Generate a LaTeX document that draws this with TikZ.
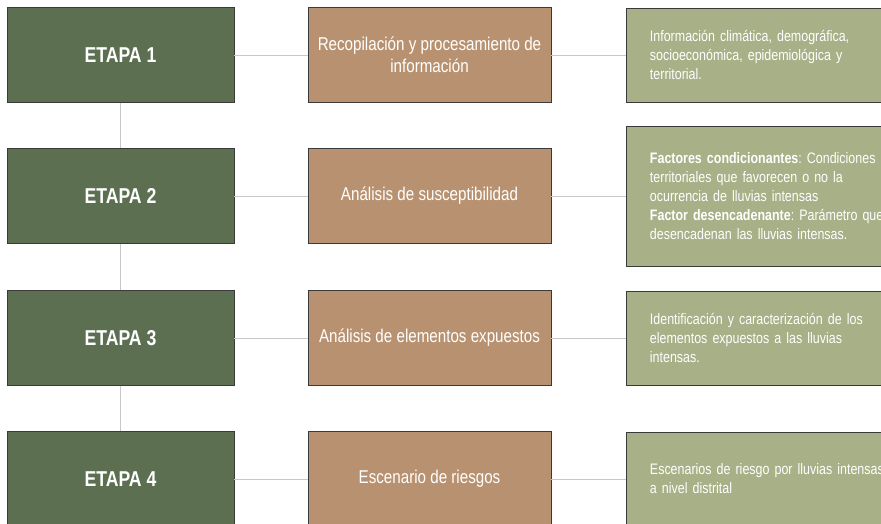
\documentclass[tikz,border=0pt]{standalone}
\usepackage{fontspec}
\setmainfont[FakeStretch=0.82]{Liberation Sans}
\definecolor{etapacol}{HTML}{5C7051}
\definecolor{proccol}{HTML}{B89270}
\definecolor{infocol}{HTML}{A7B087}
\definecolor{linkcol}{HTML}{C8C8C8}
\definecolor{edgecol}{HTML}{3A3A3A}
\newcommand\etapafont{\fontsize{21.5}{25}\selectfont\bfseries}
\newcommand\procfont{\fontsize{18.5}{22}\selectfont}
\newcommand\infofont{\fontsize{15.2}{19}\selectfont\spaceskip=2.9pt plus 1pt minus 0.5pt\relax}
\begin{document}
\frenchspacing
\begin{tikzpicture}[x=1pt,y=-1pt,
  etapabox/.style={draw=edgecol, line width=0.9pt, fill=etapacol, minimum width=227pt, minimum height=95pt, inner sep=0pt, text=white, font=\etapafont},
  procbox/.style={draw=edgecol, line width=0.9pt, fill=proccol, minimum width=243pt, minimum height=95pt, inner sep=2pt, text=white, align=center, font=\procfont},
  infobox/.style={draw=edgecol, line width=0.9pt, fill=infocol, anchor=west, text width=250pt, inner xsep=24pt, inner ysep=0pt, minimum height=94pt, text=white, align=left, font=\infofont},
  linkline/.style={draw=linkcol, line width=0.9pt}]
\clip (0,0) rectangle (881,524);
\fill[white] (0,0) rectangle (881,524);
% stages
\node[etapabox] (e1) at (120.5,55) {ETAPA 1};
\node[etapabox] (e2) at (120.5,196) {ETAPA 2};
\node[etapabox] (e3) at (120.5,338) {ETAPA 3};
\node[etapabox] (e4) at (120.5,479) {ETAPA 4};
% processes
\node[procbox] (p1) at (429.5,55) {Recopilación y procesamiento de\\información};
\node[procbox] (p2) at (429.5,196) {Análisis de susceptibilidad};
\node[procbox] (p3) at (429.5,338) {Análisis de elementos expuestos};
\node[procbox] (p4) at (429.5,479) {Escenario de riesgos};
% information
\node[infobox] (i1) at (625.5,55) {Información climática, demográfica,\\socioeconómica, epidemiológica y\\territorial.};
\node[infobox, minimum height=140pt] (i2) at (625.5,196) {\textbf{Factores condicionantes}: Condiciones\\territoriales que favorecen o no la\\ocurrencia de lluvias intensas\\\textbf{Factor desencadenante}: Parámetro que\\desencadenan las lluvias intensas.};
\node[infobox] (i3) at (625.5,338) {Identificación y caracterización de los\\elementos expuestos a las lluvias\\intensas.};
\node[infobox] (i4) at (625.5,479) {Escenarios de riesgo por lluvias intensas\\a nivel distrital};
% connectors
\foreach \k in {1,2,3,4} {
  \draw[linkline] (e\k.east) -- (p\k.west);
  \draw[linkline] (p\k.east) -- (i\k.west);
}
\draw[linkline] (e1.south) -- (e2.north);
\draw[linkline] (e2.south) -- (e3.north);
\draw[linkline] (e3.south) -- (e4.north);
\end{tikzpicture}
\end{document}
